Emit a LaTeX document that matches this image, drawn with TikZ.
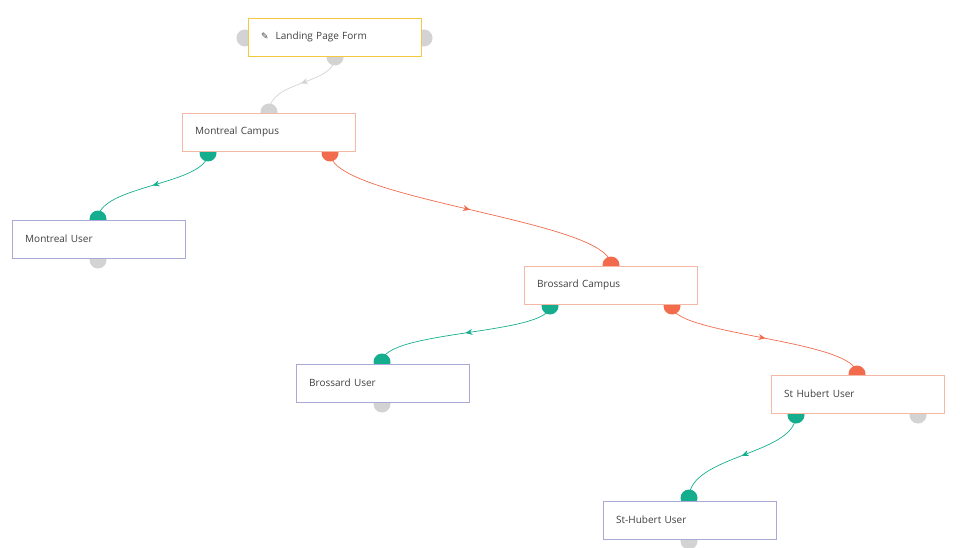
\documentclass[tikz,border=0pt]{standalone}
\usepackage{fontspec}
\setmainfont{Open Sans}
\newfontfamily\sym{DejaVu Sans}
\usetikzlibrary{decorations.markings,arrows.meta}
\definecolor{cg}{HTML}{14AE8E}
\definecolor{co}{HTML}{F26B4C}
\definecolor{cy}{HTML}{D3D3D3}
\definecolor{by}{HTML}{F5C842}
\definecolor{bo}{HTML}{F5B8A4}
\definecolor{bu}{HTML}{A9A9D6}
\begin{document}
\begin{tikzpicture}[x=1pt,y=-1pt,
  box/.style={draw,fill=white,minimum width=173pt,minimum height=38pt,anchor=north west,text width=147pt,align=left,inner xsep=13pt,font=\fontsize{10}{12}\selectfont,text=black!75},
  dot/.style={circle,fill=#1,inner sep=0pt,minimum size=17pt},
  edge/.style={draw=#1,line width=0.7pt,postaction={decorate},decoration={markings,mark=at position 0.5 with {\arrow[#1]{Stealth[length=7pt,width=6pt]}}}}]
\useasboundingbox (0,0) rectangle (960,548);
% dots
\node[dot=cy] (l1) at (245,38) {};
\node[dot=cy] (l2) at (424,38) {};
\node[dot=cy] (lb) at (335,57) {};
\node[dot=cy] (mt) at (269,112) {};
\node[dot=cg] (mg) at (208,153) {};
\node[dot=co] (mo) at (330,153) {};
\node[dot=cg] (ut) at (98,219) {};
\node[dot=cy] (ub) at (98,260) {};
\node[dot=co] (bt) at (611,265) {};
\node[dot=cg] (bg) at (550,306) {};
\node[dot=co] (bo2) at (672,306) {};
\node[dot=cg] (but) at (382,362) {};
\node[dot=cy] (bub) at (382,404) {};
\node[dot=co] (st) at (857,374) {};
\node[dot=cg] (sg) at (796,415) {};
\node[dot=cy] (sy) at (918,415) {};
\node[dot=cg] (s2t) at (689,498) {};
\node[dot=cy] (s2b) at (689,541) {};
% edges
\path[edge=cy] (lb.center) .. controls (335,85) and (269,80) .. (mt.center);
\path[edge=cg] (mg.center) .. controls (208,185) and (98,185) .. (ut.center);
\path[edge=co] (mo.center) .. controls (330,200) and (611,220) .. (bt.center);
\path[edge=cg] (bg.center) .. controls (550,335) and (382,330) .. (but.center);
\path[edge=co] (bo2.center) .. controls (672,335) and (857,340) .. (st.center);
\path[edge=cg] (sg.center) .. controls (796,455) and (689,455) .. (s2t.center);
% boxes
\node[box,draw=by] (lp) at (248,18) {{\sym\fontsize{9}{10}\selectfont ✎}\hspace{7pt}Landing Page Form};
\node[box,draw=bo] (mc) at (182,113) {Montreal Campus};
\node[box,draw=bu] (mu) at (12,220) {Montreal User};
\node[box,draw=bo] (bc) at (524,266) {Brossard Campus};
\node[box,draw=bu] (bu1) at (296,364) {Brossard User};
\node[box,draw=bo] (sh) at (771,375) {St Hubert User};
\node[box,draw=bu] (sh2) at (603,501) {St-Hubert User};
\end{tikzpicture}
\end{document}
